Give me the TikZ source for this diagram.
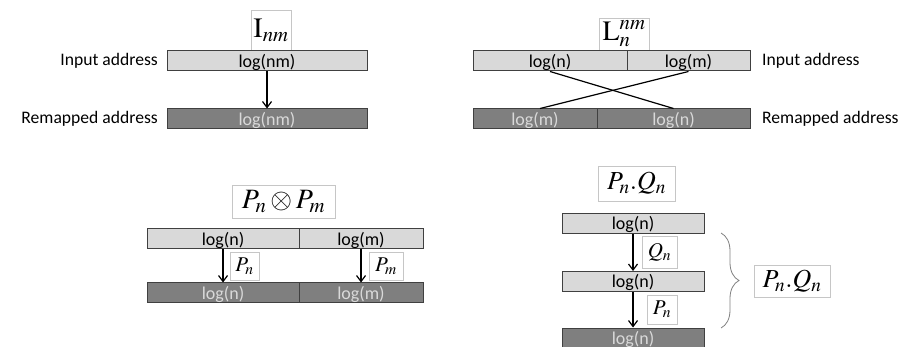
\documentclass[tikz,border=0pt]{standalone}
\usepackage{mathptmx}
\usepackage{fontspec}
\setmainfont{Carlito}
\usetikzlibrary{arrows.meta,decorations.pathreplacing}

\definecolor{barlite}{HTML}{D9D9D9}
\definecolor{bardark}{HTML}{7F7F7F}
\definecolor{barline}{HTML}{404040}

\tikzset{
  bar/.style={draw=barline, line width=1pt, minimum height=20pt, inner sep=0pt,
    text depth=1pt, font=\fontsize{18}{18}\selectfont},
  inbar/.style={bar, fill=barlite, text=black},
  outbar/.style={bar, fill=bardark, text=barlite},
  tag/.style={draw=gray!45, fill=white, inner sep=1pt},
  side/.style={font=\fontsize{17.6}{17.6}\selectfont, inner sep=0pt},
  map/.style={-{Straight Barb[length=6pt,width=9pt]}, line width=1.2pt},
}

\begin{document}
\begin{tikzpicture}[x=1pt,y=-1pt]
  \useasboundingbox (0,0) rectangle (902,347);

  % identity
  \node[tag, minimum width=40pt, minimum height=40pt, font=\fontsize{28}{28}\selectfont] (id) at (271,30) {$\mathrm{I}_{nm}$};
  \node[inbar, minimum width=200pt] (idin) at (267,61) {log(nm)};
  \node[outbar, minimum width=200pt] (idout) at (267,119) {log(nm)};
  \node[side, anchor=east] (idl1) at (158,61) {Input address};
  \node[side, anchor=east] (idl2) at (158,119) {Remapped address};
  \draw[map] (idin.south) -- (idout.north);

  % stride permutation
  \node[tag, minimum width=50pt, minimum height=32pt, font=\fontsize{28}{28}\selectfont] (sp) at (624,34) {$\mathrm{L}^{nm}_{n}$};
  \node[inbar, minimum width=154pt] (spn) at (550,61) {log(n)};
  \node[inbar, minimum width=123pt] (spm) at (688.5,61) {log(m)};
  \node[outbar, minimum width=124pt] (spm2) at (535,119) {log(m)};
  \node[outbar, minimum width=153pt] (spn2) at (673.5,119) {log(n)};
  \node[side, anchor=west] (spl1) at (762,61) {Input address};
  \node[side, anchor=west] (spl2) at (762,119) {Remapped address};
  \draw[line width=1.2pt] (spn.south) -- (spn2.north);
  \draw[line width=1.2pt] (spm.south) -- ([xshift=5pt]spm2.north);

  % tensor product
  \node[tag, minimum width=103pt, minimum height=33pt, font=\fontsize{28}{28}\selectfont] (tp) at (283.5,201.5) {$P_n\otimes P_m$};
  \node[inbar, minimum width=152pt] (tpn) at (223,239) {log(n)};
  \node[inbar, minimum width=124pt] (tpm) at (361,239) {log(m)};
  \node[outbar, minimum width=152pt] (tpn2) at (223,293) {log(n)};
  \node[outbar, minimum width=124pt] (tpm2) at (361,293) {log(m)};
  \draw[map] (tpn.south) -- (tpn2.north);
  \draw[map] (tpm.south) -- (tpm2.north);
  \node[tag, minimum width=29pt, minimum height=28pt, font=\fontsize{21}{21}\selectfont] (tpa) at (244.5,266) {$P_n$};
  \node[tag, minimum width=34pt, minimum height=28pt, font=\fontsize{21}{21}\selectfont] (tpb) at (386,266) {$P_m$};

  % composition
  \node[tag, minimum width=77pt, minimum height=35pt, font=\fontsize{26}{26}\selectfont] (pq) at (636.5,183.5) {$P_n.Q_n$};
  \node[inbar, minimum width=142pt] (pq1) at (633,223.5) {log(n)};
  \node[inbar, minimum width=142pt] (pq2) at (633,281.5) {log(n)};
  \node[outbar, minimum width=142pt] (pq3) at (633,338) {log(n)};
  \draw[map] (pq1.south) -- (pq2.north);
  \draw[map] (pq2.south) -- (pq3.north);
  \node[tag, minimum width=35pt, minimum height=32pt, font=\fontsize{21}{21}\selectfont] (pqa) at (659.5,252) {$Q_n$};
  \node[tag, minimum width=30pt, minimum height=29pt, font=\fontsize{21}{21}\selectfont] (pqb) at (662,309.5) {$P_n$};
  \coordinate (br1) at (721,233);
  \coordinate (br2) at (721,328);
  \draw[gray, line width=0.8pt, decorate, decoration={brace, amplitude=18pt}] (br1) -- (br2);
  \node[tag, minimum width=76pt, minimum height=32pt, font=\fontsize{26}{26}\selectfont] (pqr) at (792,281) {$P_n.Q_n$};
\end{tikzpicture}
\end{document}
